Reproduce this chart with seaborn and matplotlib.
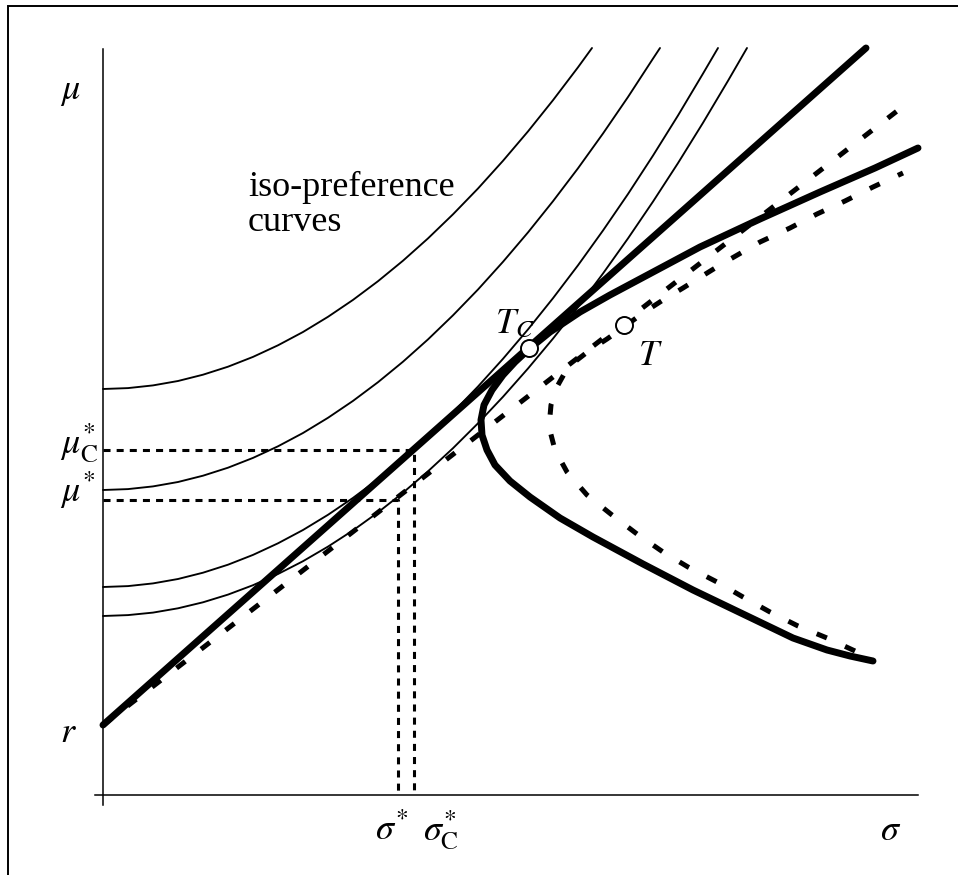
import matplotlib
matplotlib.use("Agg")
import matplotlib.pyplot as plt
from matplotlib.patches import Rectangle
import seaborn as sns

# iso-preference curves (sigma, mu), four of them, from the top of the y axis down
iso_sigma = [0, 25, 50, 75, 100, 125, 150, 175, 200, 225, 250, 275, 300, 325,
             350, 375, 400, 425, 450, 475, 500, 525, 550, 575, 600, 625]
iso_a = [406, 406.9, 409.6, 414.0, 420.3, 428.3, 438.1, 449.7, 463.0, 478.2,
         495.1, 513.8, 534.3, 556.6, 580.7, 606.5, 634.2, 663.6, 694.8, 727.7]
iso_a_end = (489, 747)
iso_b = [305, 305.9, 308.6, 313.0, 319.3, 327.3, 337.1, 348.7, 362.0, 377.2,
         394.1, 412.8, 433.3, 455.6, 479.7, 505.5, 533.2, 562.6, 593.8, 626.7,
         661.5, 698.0, 736.4]
iso_b_end = (557, 747)
iso_c = [208, 208.9, 211.6, 216.0, 222.3, 230.3, 240.1, 251.7, 265.0, 280.2,
         297.1, 315.8, 336.3, 358.6, 382.7, 408.5, 436.2, 465.6, 496.8, 529.7,
         564.5, 601.0, 639.4, 679.5, 721.4]
iso_c_end = (615, 747)
iso_d = [179, 179.9, 182.4, 186.7, 192.7, 200.4, 209.8, 221.0, 233.8, 248.4,
         264.6, 282.6, 302.3, 323.7, 346.8, 371.7, 398.2, 426.5, 456.4, 488.1,
         521.5, 556.6, 593.4, 631.9, 672.2, 714.2]
iso_d_end = (644, 747)

# efficient frontier with constraint (thick) and without (dashed)
front_c_sigma = [770, 747, 724, 690, 640, 590, 540, 490, 457, 427, 407, 392, 384,
                 379, 378, 381, 389, 400, 412, 426, 447, 477, 507, 537, 597, 657,
                 717, 772, 815]
front_c_mu = [134, 139, 145, 157, 181, 205, 231, 258, 277, 298, 314, 330, 345,
              360, 375, 390, 405, 420, 433, 446, 463, 483, 500, 516, 548, 576,
              603, 627, 647]
front_sigma = [752, 724, 695, 667, 640, 614, 585, 560, 534, 509, 484, 464, 452,
               446, 448, 455, 465, 487, 504, 521, 540, 560, 580, 617, 657, 687,
               714, 742, 770, 800]
front_mu = [144, 157, 169, 183, 198, 213, 228, 243, 261, 280, 300, 323, 345,
            368, 390, 410, 428, 445, 456, 468, 482, 495, 507, 530, 553, 567,
            581, 594, 608, 622]

# capital market lines from r
r = 70
cml_c_sigma = [0, 763]
cml_c_mu = [r, 747]
cml_sigma = [0, 807]
cml_mu = [r, 694]

# tangency portfolios
tc = (426, 447)
t = (521, 470)

# optimal points
sigma_star, mu_star = 295, 295
sigma_c_star, mu_c_star = 311, 345

sns.set_style("white")
plt.rcParams["font.family"] = ["Liberation Serif", "DejaVu Serif"]
plt.rcParams["mathtext.fontset"] = "stix"
plt.rcParams["text.color"] = "black"

fig = plt.figure(figsize=(9.58, 8.75), dpi=100)
ax = fig.add_axes([0, 0, 1, 1])
ax.set_xlim(-103, 855)
ax.set_ylim(-80, 795)
ax.patch.set_alpha(0)

for sp in ["top", "right"]:
    ax.spines[sp].set_visible(False)
ax.spines["left"].set_position(("data", 0))
ax.spines["bottom"].set_position(("data", 0))
ax.spines["left"].set_bounds(-10, 746)
ax.spines["bottom"].set_bounds(-8, 815)
for sp in ["left", "bottom"]:
    ax.spines[sp].set_linewidth(1.1)
    ax.spines[sp].set_color("black")
ax.set_xticks([])
ax.set_yticks([])

# outer frame
ax.add_patch(Rectangle((7.5 / 958, -0.1), 1.2, 1.1 - 6 / 875, transform=fig.transFigure,
                       fill=False, lw=1.4, ec="black", clip_on=False))

for vals, end in [(iso_a, iso_a_end), (iso_b, iso_b_end),
                  (iso_c, iso_c_end), (iso_d, iso_d_end)]:
    xs = iso_sigma[:len(vals)] + [end[0]]
    ys = vals + [end[1]]
    sns.lineplot(x=xs, y=ys, sort=False, estimator=None, color="black",
                 linewidth=1.35, ax=ax)

thick = dict(sort=False, estimator=None, color="black", linewidth=5,
             solid_capstyle="round", solid_joinstyle="round", ax=ax)
sns.lineplot(x=cml_c_sigma, y=cml_c_mu, **thick)
sns.lineplot(x=front_c_sigma, y=front_c_mu, **thick)

dashed = dict(sort=False, estimator=None, color="black", linewidth=3.6,
              linestyle=(0, (2.2, 4.0)), dash_capstyle="butt", ax=ax)
sns.lineplot(x=cml_sigma, y=cml_mu, **dashed)
sns.lineplot(x=front_sigma, y=front_mu, **dashed)

guide = dict(sort=False, estimator=None, color="black", linewidth=2.2,
             linestyle=(0, (2.3, 2.0)), dash_capstyle="butt", ax=ax)
sns.lineplot(x=[0, sigma_c_star, sigma_c_star], y=[mu_c_star, mu_c_star, 0], **guide)
sns.lineplot(x=[0, sigma_star, sigma_star], y=[mu_star, mu_star, 0], **guide)

sns.scatterplot(x=[tc[0], t[0]], y=[tc[1], t[1]], s=150, color="white",
                edgecolor="black", linewidth=1.4, zorder=6, ax=ax)

fs = 26
ax.text(-43, 704, r"$\mu$", fontsize=fs, ha="left", va="center")
ax.text(-43, 61, r"$r$", fontsize=fs, ha="left", va="center")
ax.text(-43, 342, r"$\mu_{\mathrm{C}}^{*}$", fontsize=fs, ha="left", va="baseline")
ax.text(-43, 293, r"$\mu^{*}$", fontsize=fs, ha="left", va="baseline")
ax.text(272, -45, r"$\sigma^{*}$", fontsize=fs, ha="left", va="baseline")
ax.text(320, -45, r"$\sigma_{\mathrm{C}}^{*}$", fontsize=fs, ha="left", va="baseline")
ax.text(777, -45, r"$\sigma$", fontsize=fs, ha="left", va="baseline")
ax.text(392, 462, r"$T_C$", fontsize=fs, ha="left", va="baseline")
ax.text(535, 430, r"$T$", fontsize=fs, ha="left", va="baseline")
ax.text(145, 599, "iso-preference", fontsize=fs, ha="left", va="baseline")
ax.text(145, 564, "curves", fontsize=fs, ha="left", va="baseline")

fig.savefig("out.png", dpi=100)
